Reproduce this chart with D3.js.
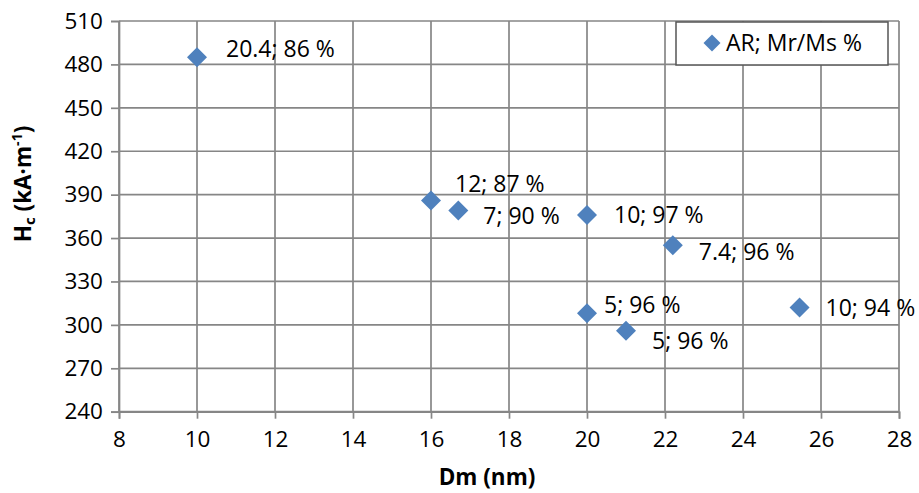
<!DOCTYPE html>
<html>
<head>
<meta charset="utf-8">
<script src="https://cdn.jsdelivr.net/npm/d3@7"></script>
<style>
  html, body { margin: 0; padding: 0; background: #fff; }
  svg { display: block; font-family: "Open Sans", sans-serif; }
</style>
</head>
<body>
<svg id="chart" width="919" height="493"></svg>
<script>
// ---- data ----
const dm = [10, 16, 16.7, 20, 22.2, 20, 21, 25.45];
const hc = [485, 386, 379, 376, 355, 308, 296, 312];
const labels = ["20.4; 86 %", "12; 87 %", "7; 90 %", "10; 97 %", "7.4; 96 %", "5; 96 %", "5; 96 %", "10; 94 %"];
const xTicks = [8, 10, 12, 14, 16, 18, 20, 22, 24, 26, 28];
const yTicks = [240, 270, 300, 330, 360, 390, 420, 450, 480, 510];
const seriesName = "AR; Mr/Ms %";
const xTitle = "Dm (nm)";

// label placement (pixel offsets of text from point: dx, baseline dy)
const labelOffsets = [[29, 0], [24, -8], [25, 13], [27, 8], [26, 15], [17, 0], [26, 18], [26, 8]];

// ---- layout ----
const svg = d3.select("#chart");
const pLeft = 119, pRight = 899, pTop = 21, pBottom = 411.7;
const gridColor = "#868686";
const blue = "#4F81BD";

const x = d3.scaleLinear().domain([8, 28]).range([pLeft, pRight]);
const y = d3.scaleLinear().domain([240, 510]).range([pBottom, pTop]);

// gridlines
svg.append("g").selectAll("line").data(xTicks).join("line")
  .attr("x1", d => x(d)).attr("x2", d => x(d))
  .attr("y1", pTop).attr("y2", pBottom)
  .attr("stroke", gridColor).attr("stroke-width", 1.7);
svg.append("g").selectAll("line").data(yTicks).join("line")
  .attr("x1", pLeft).attr("x2", pRight)
  .attr("y1", d => y(d)).attr("y2", d => y(d))
  .attr("stroke", gridColor).attr("stroke-width", 1.7);

// axes
const xAxis = d3.axisBottom(x).tickValues(xTicks).tickSize(7).tickPadding(12).tickFormat(d3.format("d"));
const gx = svg.append("g").attr("transform", `translate(0,${pBottom})`).call(xAxis);
const yAxis = d3.axisLeft(y).tickValues(yTicks).tickSize(8).tickPadding(8).tickFormat(d3.format("d"));
const gy = svg.append("g").attr("transform", `translate(${pLeft},0)`).call(yAxis);
[gx, gy].forEach(g => {
  g.select(".domain").attr("stroke", gridColor).attr("stroke-width", 1.7);
  g.selectAll(".tick line").attr("stroke", gridColor).attr("stroke-width", 1.7);
  g.selectAll(".tick text").attr("fill", "#000").attr("font-size", 22.5)
    .attr("font-family", "'Open Sans', sans-serif");
});

// diamonds
const diamond = r => `M0,${-r}L${r},0L0,${r}L${-r},0Z`;
svg.append("g").selectAll("path").data(dm).join("path")
  .attr("d", diamond(10))
  .attr("transform", (d, i) => `translate(${x(d)},${y(hc[i])})`)
  .attr("fill", blue);

// data labels
svg.append("g").selectAll("text").data(labels).join("text")
  .attr("x", (d, i) => x(dm[i]) + labelOffsets[i][0])
  .attr("y", (d, i) => y(hc[i]) + labelOffsets[i][1])
  .attr("font-size", 23)
  .attr("fill", "#000")
  .text(d => d);

// legend
const lg = svg.append("g");
lg.append("rect").attr("x", 676).attr("y", 22).attr("width", 212).attr("height", 43)
  .attr("fill", "#fff").attr("stroke", "#555").attr("stroke-width", 1.5);
lg.append("path").attr("d", diamond(8.5)).attr("transform", "translate(712,43)").attr("fill", blue);
lg.append("text").attr("x", 726).attr("y", 51).attr("font-size", 23).attr("fill", "#000").text(seriesName);

// axis titles
svg.append("text").attr("x", 487).attr("y", 485).attr("text-anchor", "middle")
  .attr("font-size", 22.5).attr("font-weight", "bold").attr("fill", "#000").text(xTitle);

const yt = svg.append("text")
  .attr("transform", "translate(31,184) rotate(-90)")
  .attr("text-anchor", "middle")
  .attr("font-size", 22.5).attr("font-weight", "bold").attr("fill", "#000");
yt.append("tspan").text("H");
yt.append("tspan").attr("font-size", 15).attr("dy", 4).text("c");
yt.append("tspan").attr("dy", -4).text(" (kA·m");
yt.append("tspan").attr("font-size", 14).attr("dy", -9).text("-1");
yt.append("tspan").attr("dy", 9).text(")");
</script>
</body>
</html>
